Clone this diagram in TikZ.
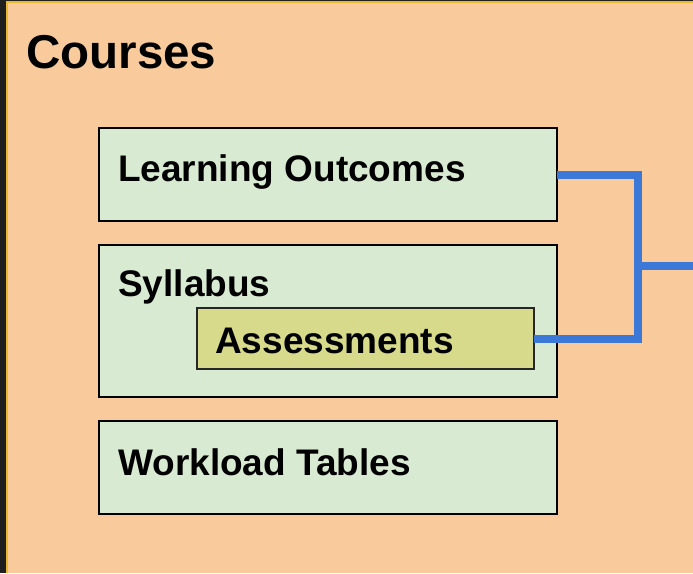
\documentclass[tikz,border=0pt]{standalone}
\usepackage{fontspec}
\setmainfont{Liberation Sans}
\definecolor{bgorange}{HTML}{F9CB9C}
\definecolor{boxgreen}{HTML}{D9EAD3}
\definecolor{boxolive}{HTML}{D6DA8A}
\definecolor{linkblue}{HTML}{3C78D8}
\definecolor{edgedark}{HTML}{1F1F1F}
\definecolor{edgeyellow}{HTML}{E8B931}
\tikzset{
  gbox/.style={draw=black, line width=2pt, fill=boxgreen, rectangle, inner sep=0pt, outer sep=0pt},
  obox/.style={draw=black!85, line width=1.5pt, fill=boxolive, rectangle, inner sep=0pt, outer sep=0pt},
  lbl/.style={anchor=base west, inner sep=0pt, font=\fontsize{37}{40}\selectfont\bfseries},
  link/.style={draw=linkblue, line width=8pt, line join=miter, line cap=butt},
}
\begin{document}
\begin{tikzpicture}[x=1pt,y=-1pt]
\useasboundingbox (0,0) rectangle (693,573);
\fill[edgedark] (0,0) rectangle (693,573);
\fill[edgeyellow] (6,1) rectangle (693,573);
\fill[bgorange] (8,3) rectangle (693,573);
\node[anchor=base west, inner sep=0pt, font=\fontsize{47.5}{50}\selectfont\bfseries] (title) at (26,68.3) {Courses};
\node[gbox, minimum width=458pt, minimum height=93pt, anchor=north west] (lo) at (99,128) {};
\node[gbox, minimum width=458pt, minimum height=152pt, anchor=north west] (sy) at (99,245) {};
\node[obox, minimum width=337pt, minimum height=61pt, anchor=north west] (as) at (197,308) {};
\node[gbox, minimum width=458pt, minimum height=93pt, anchor=north west] (wl) at (99,421) {};
\node[lbl] (lot) at (118,181.7) {Learning Outcomes};
\node[lbl] (syt) at (118,296) {Syllabus};
\node[lbl] (ast) at (215,353.3) {Assessments};
\node[lbl] (wlt) at (118,475) {Workload Tables};
\coordinate (jm) at (638,265.5);
\coordinate (out) at (693,265.5);
\draw[link] (lo.east) -| (jm) |- (as.east);
\draw[link] (jm) -- (out);
\end{tikzpicture}
\end{document}
